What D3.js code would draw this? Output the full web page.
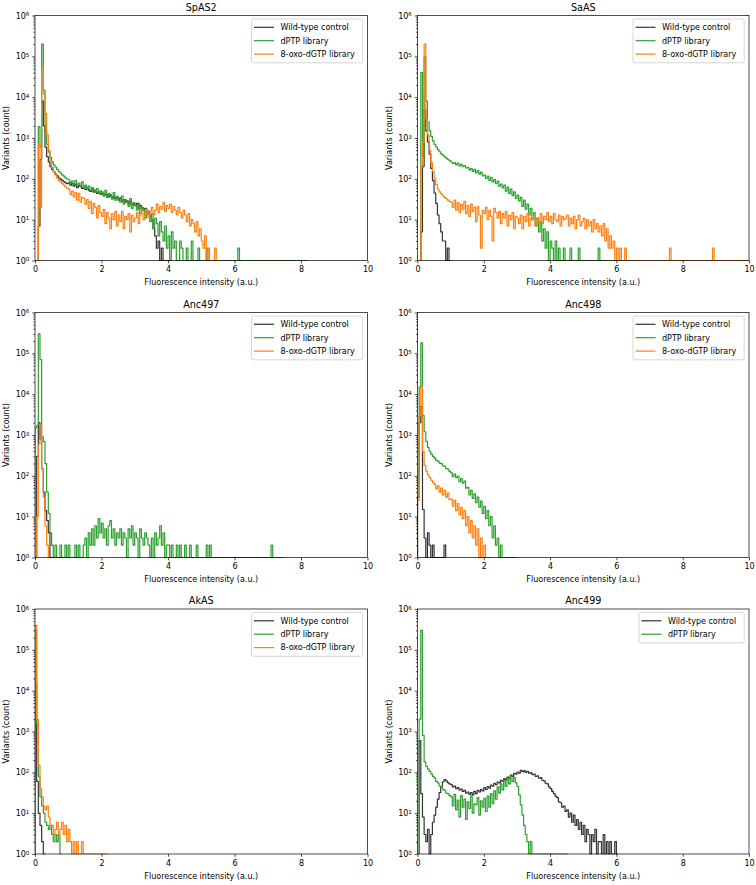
<!DOCTYPE html>
<html>
<head>
<meta charset="utf-8">
<script src="https://cdn.jsdelivr.net/npm/d3@7"></script>
<style>
  body { margin: 0; background: #fff; }
  svg { display: block; font-family: "DejaVu Sans", sans-serif; }
</style>
</head>
<body>
<svg width="756" height="885"></svg>
<script>
// histogram bins start at 0, each binWidth wide; counts per bin
const binWidth = 0.05;
const xTicks = [0, 2, 4, 6, 8, 10];
const yTicks = [1, 10, 100, 1000, 10000, 100000, 1000000];
const seriesNames = ["Wild-type control", "dPTP library", "8-oxo-dGTP library"];
const seriesColors = ["#333333", "#2ca02c", "#ff7f0e"];
const panelTitles = ["SpAS2", "SaAS", "Anc497", "Anc498", "AkAS", "Anc499"];

// SpAS2
const spas2Wt = [0,0,7,300,8000,2000,600,350,260,200,
  170,150,130,118,105,98,92,85,80,76,
  80,70,76,66,73,61,69,64,58,63,
  55,60,52,49,56,47,51,44,48,42,
  45,39,43,41,36,40,34,38,33,35,
  30,34,28,31,27,29,24,28,23,25,
  22,25,19,22,20,17,19,15,16,12,
  10,6,4,2,3,1,2,0,1,0,1];
const spas2Dptp = [0,0,1900,600,200000,15000,1500,700,450,330,
  260,220,195,170,150,138,125,116,106,99,
  95,82,88,74,91,70,79,66,84,63,
  70,58,66,52,61,55,47,58,44,51,
  48,38,52,35,44,41,32,46,30,37,
  34,27,38,24,31,29,21,33,19,26,
  22,17,25,14,20,18,11,16,13,9,
  14,6,11,8,4,9,5,3,7,2,
  4,1,5,2,3,1,0,3,2,1,
  0,2,1,0,3,1,0,1,2,0,
  1,0,0,2,0,1,0,0,1,0,
  0,1,0,0,1,0,0,0,0,0,
  0,0,2];
const spas2Oxo = [0,0,700,20,50000,12000,4000,1200,500,280,
  190,150,125,105,92,84,76,70,64,60,
  55,41,50,36,46,30,44,27,35,33,
  24,31,19,28,14,25,20,11,22,15,
  12,18,8,15,11,6,14,10,16,7,
  13,9,16,6,12,10,14,5,13,9,
  11,15,8,13,17,10,14,18,11,16,
  20,13,17,24,15,21,18,26,16,22,
  19,24,15,21,17,13,20,15,11,17,
  13,9,14,7,10,8,5,9,4,6,
  3,2,4,1,2,1,0,1,2,0,1];
const spas2End = [4.05, 8.2, 5.55];

// SaAS
const saasWt = [0,0,5,200,5000,1500,800,400,180,90,
  45,25,13,8,5,3,3,1,2,1];
const saasDptp = [0,0,40000,350,100000,8000,2500,1500,1100,850,
  700,600,520,460,410,380,350,320,300,280,
  262,238,251,220,244,208,226,199,212,184,
  192,165,178,152,171,140,158,130,146,118,
  124,102,116,92,108,84,96,76,88,66,
  74,60,70,50,63,44,56,39,48,33,
  40,29,35,21,30,18,24,13,19,10,
  15,7,11,5,9,3,6,2,5,1,
  3,2,1,3,0,2,1,0,2,1,
  0,1,2,0,1,0,0,2,0,0,
  0,0,0,0,0,0,0,0,0,2];
const saasOxo = [0,0,200,800,200000,3000,1200,500,250,150,
  100,72,56,48,43,38,35,33,30,28,
  27,20,30,17,26,15,24,18,28,14,
  22,12,24,16,20,9,21,13,2,17,
  14,20,10,17,12,3,19,15,11,16,
  8,14,11,16,7,13,10,15,6,12,
  11,8,13,6,12,9,14,7,11,10,
  13,7,11,9,14,8,12,10,15,9,
  12,8,14,10,9,13,7,12,10,11,
  13,7,11,8,12,6,10,13,7,9,
  11,6,10,7,9,5,10,6,8,5,
  7,4,8,3,6,2,4,2,3,1,
  2,1,2,0,1,2,0,1,0,1,
  0,0,0,0,0,0,0,0,0,0,
  0,0,0,0,0,0,0,0,0,0,
  0,0,2,0,0,0,0,0,0,0,
  0,0,0,0,0,0,0,0,0,0,
  0,0,0,0,0,0,0,0,2];
const saasEnd = [1.0, 8.2, 10];

// Anc497
const anc497Wt = [0,300,2000,800,150,40,14,8,4,1,
  0,0,0,0,0,1,0,1,0,1];
const anc497Dptp = [1500,1700,300000,70000,900,700,200,40,12,4,
  2,1,2,0,1,2,0,1,2,0,
  2,1,0,0,2,0,2,1,0,2,
  3,1,4,2,5,2,6,3,9,4,
  7,3,5,2,6,8,3,5,2,4,
  3,5,2,4,3,1,5,3,6,2,
  4,3,1,5,3,2,4,3,2,1,
  3,1,4,2,3,6,2,4,1,2,
  2,1,2,1,0,2,1,2,0,1,
  2,0,1,2,1,0,0,2,0,0,
  0,0,1,2,0,2,0,0,0,0,
  0,0,0,0,0,0,0,0,0,0,
  0,0,0,0,0,0,0,0,0,0,
  0,0,0,0,0,0,0,0,0,0,
  0,0,2];
const anc497Oxo = [0,10,600,1800,150,30,6,2,1];
const anc497End = [1.0, 7.45, 0.45];

// Anc498
const anc498Wt = [30,2000,5000,15,3,1,4,2,1,2,
  0,0,0,0,0,0,2];
const anc498Dptp = [30,15000,180000,3000,1200,700,500,400,340,300,
  270,240,228,205,198,176,170,150,146,128,
  118,96,110,90,99,72,86,66,74,50,
  52,34,44,28,36,22,30,17,24,12,
  18,9,14,6,10,3,6,2,3,1,
  2,0,1];
const anc498Oxo = [25,3000,15000,400,180,130,105,90,78,68,
  62,48,57,40,50,34,44,30,38,26,
  27,18,25,14,21,11,17,9,14,6,
  10,4,8,3,6,2,5,1,3,1,
  2,0,1,1];
const anc498End = [0.85, 3.0, 2.2];

// AkAS
const akasWt = [15000,60,10,5,2,1];
const akasDptp = [300000,1500,80,25,15,10,6,5,4,5,
  3,2,3,2,3,1];
const akasOxo = [400000,2000,150,40,25,15,12,15,8,5,
  5,3,4,6,3,4,6,3,5,2,
  4,2,1,2,0,2,1,0,2,1];
const akasEnd = [0.28, 0.8, 2.2];

// Anc499 (no 8-oxo-dGTP library)
const anc499Wt = [0,600,30,8,3,2,4,1,3,6,
  9,14,22,32,45,58,66,62,56,52,
  50,44,46,40,42,37,39,34,36,31,
  33,29,32,28,34,30,36,33,38,35,
  42,38,45,41,49,46,54,50,58,55,
  64,60,70,66,76,72,86,80,94,90,
  102,96,112,104,110,100,106,95,98,88,
  90,80,82,72,74,64,62,54,52,44,
  40,34,30,26,24,19,18,14,15,11,
  12,8,10,6,9,5,7,4,6,3,
  5,2,4,3,1,3,2,4,1,2,
  2,1,3,0,2,1,2,0,1,2,1];
const anc499Dptp = [0,2000,300000,800,180,140,120,105,92,80,
  72,60,55,46,44,38,36,31,30,27,
  25,15,29,12,21,8,27,14,22,7,
  19,13,26,10,17,16,24,9,20,14,
  23,11,26,14,30,17,35,22,44,31,
  52,37,63,45,72,52,80,60,75,55,
  45,28,16,9,5,3,2,1,2,0];
const anc499End = [6.05, 4.55];

const panels = [
  { series: [spas2Wt, spas2Dptp, spas2Oxo], ends: spas2End },
  { series: [saasWt, saasDptp, saasOxo], ends: saasEnd },
  { series: [anc497Wt, anc497Dptp, anc497Oxo], ends: anc497End },
  { series: [anc498Wt, anc498Dptp, anc498Oxo], ends: anc498End },
  { series: [akasWt, akasDptp, akasOxo], ends: akasEnd },
  { series: [anc499Wt, anc499Dptp], ends: anc499End }
];

const colX = [[35, 367.5], [417.5, 749]];
const rowY = [15.5, 312.5, 609];
const axH = 245;

const svg = d3.select("svg");

const minorTicks = [];
for (let k = 0; k < 6; k++) {
  for (let m = 2; m < 10; m++) minorTicks.push(m * Math.pow(10, k));
}

panels.forEach((p, i) => {
  const col = i % 2, row = Math.floor(i / 2);
  const left = colX[col][0], right = colX[col][1];
  const top = rowY[row], bottom = top + axH;

  const x = d3.scaleLinear().domain([0, 10]).range([left, right]);
  const y = d3.scaleLog().domain([1, 1e6]).range([bottom, top]);

  const g = svg.append("g");

  const clipId = "clip" + i;
  g.append("clipPath").attr("id", clipId)
    .append("rect")
    .attr("x", left).attr("y", top - 1)
    .attr("width", right - left).attr("height", axH + 1.5);

  const line = d3.line();
  const yv = c => c >= 1 ? y(c) : y(1);

  p.series.forEach((counts, s) => {
    const first = counts.findIndex(c => c > 0);
    const pts = [[x(first * binWidth), y(1)]];
    for (let b = first; b < counts.length; b++) {
      pts.push([x(b * binWidth), yv(counts[b])]);
      pts.push([x((b + 1) * binWidth), yv(counts[b])]);
    }
    pts.push([x(counts.length * binWidth), y(1)]);
    pts.push([x(p.ends[s]), y(1)]);

    g.append("path")
      .attr("clip-path", `url(#${clipId})`)
      .attr("d", line(pts))
      .attr("fill", "none")
      .attr("stroke", seriesColors[s])
      .attr("stroke-width", 1.2)
      .attr("stroke-linejoin", "round");
  });

  // axes
  const xAxis = g.append("g")
    .attr("transform", `translate(0, ${bottom})`)
    .call(d3.axisBottom(x).tickValues(xTicks).tickSize(2.8).tickPadding(3.5).tickFormat(d3.format("d")));
  const yAxis = g.append("g")
    .attr("transform", `translate(${left}, 0)`)
    .call(d3.axisLeft(y).tickValues(yTicks).tickSize(2.8).tickPadding(2.8).tickFormat(() => ""));
  const yMinor = g.append("g")
    .attr("transform", `translate(${left}, 0)`)
    .call(d3.axisLeft(y).tickValues(minorTicks).tickSize(1.6).tickFormat(() => ""));

  [xAxis, yAxis, yMinor].forEach(a => {
    a.select(".domain").remove();
    a.selectAll("line").attr("stroke", "#000").attr("stroke-width", 0.7);
    a.selectAll("text").attr("font-family", "DejaVu Sans").attr("font-size", 8).attr("fill", "#000");
  });

  yAxis.selectAll(".tick text")
    .each(function(d) {
      const t = d3.select(this);
      t.text("10");
      t.append("tspan")
        .attr("font-size", 5.6)
        .attr("dy", "-0.45em")
        .text(Math.round(Math.log10(d)));
    });

  // frame
  g.append("rect")
    .attr("x", left).attr("y", top)
    .attr("width", right - left).attr("height", axH)
    .attr("fill", "none")
    .attr("stroke", "#000")
    .attr("stroke-width", 0.7);

  // title and labels
  g.append("text")
    .attr("x", (left + right) / 2).attr("y", top - 5)
    .attr("text-anchor", "middle")
    .attr("font-size", 9.6)
    .text(panelTitles[i]);

  g.append("text")
    .attr("x", (left + right) / 2).attr("y", bottom + 24.5)
    .attr("text-anchor", "middle")
    .attr("font-size", 8)
    .text("Fluorescence intensity (a.u.)");

  g.append("text")
    .attr("transform", `translate(${left - 26}, ${(top + bottom) / 2}) rotate(-90)`)
    .attr("text-anchor", "middle")
    .attr("font-size", 8)
    .text("Variants (count)");

  // legend
  const n = p.series.length;
  const leg = g.append("g");
  const box = leg.append("rect")
    .attr("fill", "#fff")
    .attr("fill-opacity", 0.8)
    .attr("stroke", "#cccccc")
    .attr("stroke-width", 0.8)
    .attr("rx", 2);
  let maxW = 0;
  const rowsG = leg.append("g");
  for (let s = 0; s < n; s++) {
    const ty = 8.3 + s * 13.4;
    rowsG.append("line")
      .attr("x1", 2.5).attr("x2", 22.5)
      .attr("y1", ty).attr("y2", ty)
      .attr("stroke", seriesColors[s])
      .attr("stroke-width", 1.2);
    const t = rowsG.append("text")
      .attr("x", 29).attr("y", ty)
      .attr("dy", "0.35em")
      .attr("font-size", 8)
      .text(seriesNames[s]);
    maxW = Math.max(maxW, t.node().getComputedTextLength());
  }
  const bw = 29 + maxW + 8;
  const bh = 8.3 + (n - 1) * 13.4 + 8.7;
  box.attr("width", bw).attr("height", bh);
  leg.attr("transform", `translate(${right - 4.8 - bw}, ${top + 3.5})`);
});
</script>
</body>
</html>
